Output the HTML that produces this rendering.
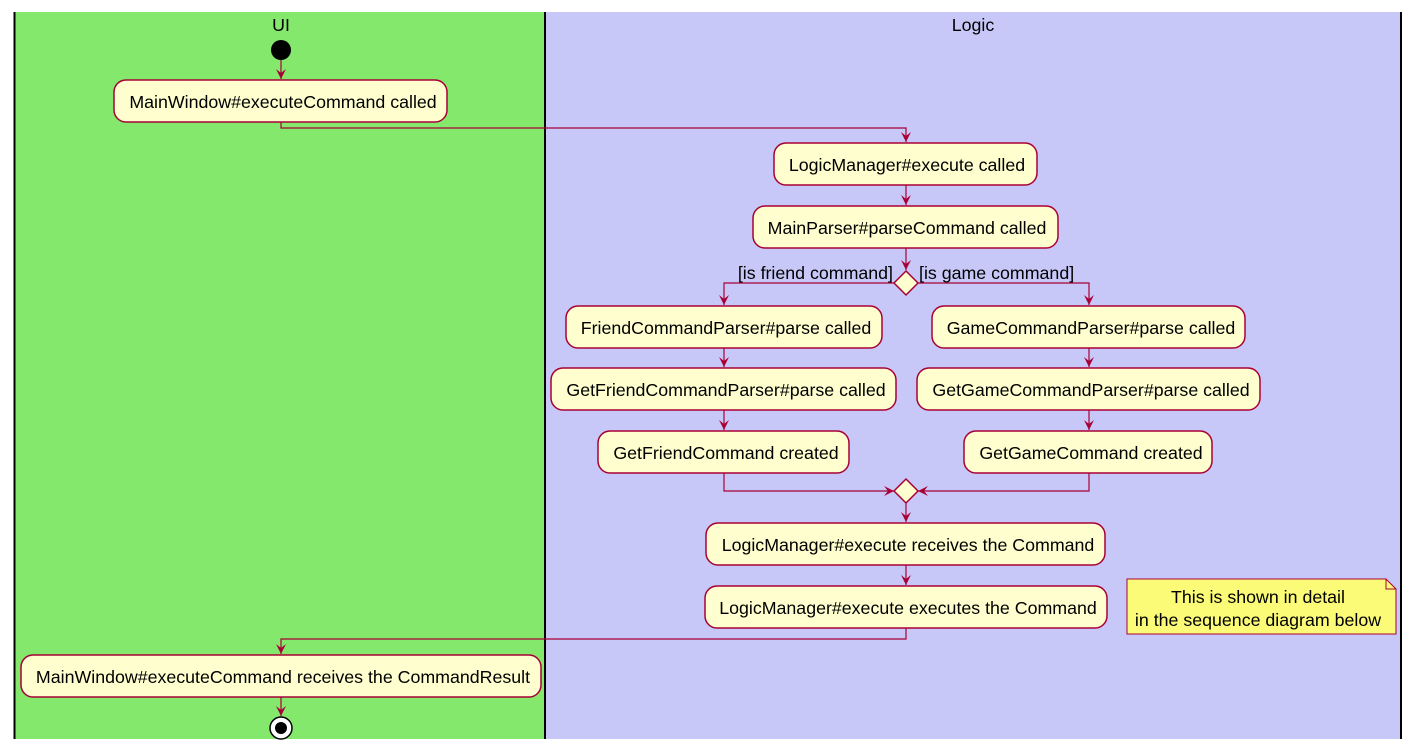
<!DOCTYPE html>
<html><head><meta charset="utf-8"><style>
body{margin:0;background:#fff;}
svg{display:block;}
text{font-family:"Liberation Sans",Arial,sans-serif;font-size:17.8px;fill:#000;}
</style></head><body>
<svg width="1420" height="750" xmlns="http://www.w3.org/2000/svg">
<defs>
<marker id="a" markerWidth="12" markerHeight="12" refX="10" refY="5" orient="auto" markerUnits="userSpaceOnUse">
<path d="M0,0 L10,5 L0,10 L4,5 Z" fill="#A80036"/>
</marker>
</defs>
<rect x="14" y="12" width="531" height="727" fill="#84E86C"/>
<rect x="545" y="12" width="856" height="727" fill="#C8C8F8"/>
<line x1="14.5" y1="12" x2="14.5" y2="739" stroke="#000" stroke-width="2"/>
<line x1="545" y1="12" x2="545" y2="739" stroke="#000" stroke-width="2"/>
<line x1="1401" y1="12" x2="1401" y2="739" stroke="#000" stroke-width="2"/>
<text x="281" y="31" text-anchor="middle" font-size="19">UI</text>
<text x="973" y="31" text-anchor="middle" font-size="17">Logic</text>

<g fill="none" stroke="#A80036" stroke-width="1.2">
<line x1="281" y1="60" x2="281" y2="79" marker-end="url(#a)"/>
<polyline points="281,122 281,128 906,128 906,142" marker-end="url(#a)"/>
<line x1="906" y1="185" x2="906" y2="205" marker-end="url(#a)"/>
<line x1="906" y1="248" x2="906" y2="270" marker-end="url(#a)"/>
<polyline points="895,283 724,283 724,305" marker-end="url(#a)"/>
<polyline points="917,283 1089,283 1089,305" marker-end="url(#a)"/>
<line x1="724" y1="348" x2="724" y2="367" marker-end="url(#a)"/>
<line x1="1089" y1="348" x2="1089" y2="367" marker-end="url(#a)"/>
<line x1="724" y1="410" x2="724" y2="430" marker-end="url(#a)"/>
<line x1="1089" y1="410" x2="1089" y2="430" marker-end="url(#a)"/>
<polyline points="724,473 724,491 894,491" marker-end="url(#a)"/>
<polyline points="1089,473 1089,491 918,491" marker-end="url(#a)"/>
<line x1="906" y1="503" x2="906" y2="522" marker-end="url(#a)"/>
<line x1="906" y1="565" x2="906" y2="585" marker-end="url(#a)"/>
<polyline points="906,628 906,639 281,639 281,654" marker-end="url(#a)"/>
<line x1="281" y1="697" x2="281" y2="716" marker-end="url(#a)"/>
</g>

<circle cx="281" cy="50" r="10" fill="#000"/>
<circle cx="281" cy="728" r="11" fill="#fff" stroke="#000" stroke-width="1.5"/>
<circle cx="281" cy="728" r="6" fill="#000"/>

<g fill="#FEFECE" stroke="#A80036" stroke-width="1.5">
<rect x="114" y="80" width="333" height="42" rx="12"/>
<rect x="774" y="143" width="263" height="42" rx="12"/>
<rect x="753" y="206" width="305" height="42" rx="12"/>
<rect x="566" y="306" width="316" height="42" rx="12"/>
<rect x="932" y="306" width="313" height="42" rx="12"/>
<rect x="551" y="368" width="345" height="42" rx="12"/>
<rect x="917" y="368" width="343" height="42" rx="12"/>
<rect x="598" y="431" width="251" height="42" rx="12"/>
<rect x="964" y="431" width="248" height="42" rx="12"/>
<rect x="706" y="523" width="399" height="42" rx="12"/>
<rect x="705" y="586" width="402" height="42" rx="12"/>
<rect x="21" y="655" width="520" height="42" rx="12"/>
<polygon points="906,271 918,283 906,295 894,283"/>
<polygon points="906,479 918,491 906,503 894,491"/>
</g>
<path d="M1127,579 L1386,579 L1396,589 L1396,634 L1127,634 Z" fill="#FBFB77" stroke="#A80036" stroke-width="1"/>
<path d="M1386,579 L1386,589 L1396,589" fill="none" stroke="#A80036" stroke-width="1"/>

<g text-anchor="middle">
<text x="283" y="108">MainWindow#executeCommand called</text>
<text x="907" y="171">LogicManager#execute called</text>
<text x="907" y="234">MainParser#parseCommand called</text>
<text x="726" y="334">FriendCommandParser#parse called</text>
<text x="1091" y="334">GameCommandParser#parse called</text>
<text x="726" y="396">GetFriendCommandParser#parse called</text>
<text x="1091" y="396">GetGameCommandParser#parse called</text>
<text x="726" y="459">GetFriendCommand created</text>
<text x="1091" y="459">GetGameCommand created</text>
<text x="908" y="551">LogicManager#execute receives the Command</text>
<text x="908" y="614">LogicManager#execute executes the Command</text>
<text x="283" y="683">MainWindow#executeCommand receives the CommandResult</text>
<text x="1258" y="603">This is shown in detail</text>
<text x="1258" y="626">in the sequence diagram below</text>
</g>
<text x="893" y="279" text-anchor="end">[is friend command]</text>
<text x="919" y="279">[is game command]</text>
</svg>
</body></html>
